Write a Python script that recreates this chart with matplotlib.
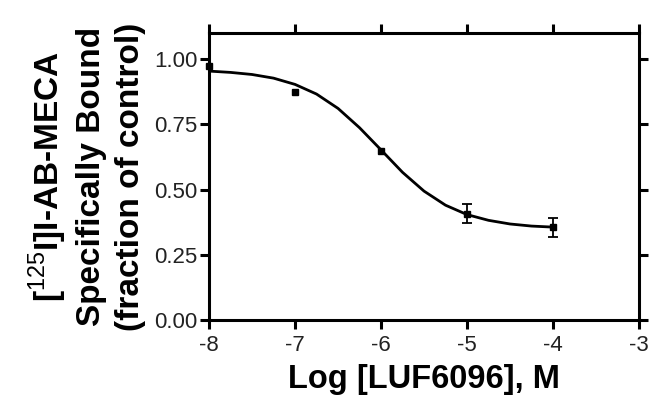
import numpy as np
import matplotlib
matplotlib.use("Agg")
import matplotlib.pyplot as plt

plt.rcParams['font.family'] = ['Liberation Sans', 'DejaVu Sans']
plt.rcParams['mathtext.fontset'] = 'custom'
plt.rcParams['mathtext.rm'] = 'Liberation Sans'
plt.rcParams['mathtext.bf'] = 'Liberation Sans:bold'
plt.rcParams['axes.unicode_minus'] = False

# measured points (log M, fraction of control)
log_conc = [-8, -7, -6, -5, -4]
bound = [0.975, 0.872, 0.647, 0.408, 0.355]
sem = [0.0, 0.0, 0.0, 0.035, 0.036]

# fitted curve
curve_x = [-8.0, -7.75, -7.5, -7.25, -7.0, -6.75, -6.5, -6.25, -6.0,
           -5.75, -5.5, -5.25, -5.0, -4.75, -4.5, -4.25, -4.0]
curve_y = [0.954, 0.949, 0.941, 0.927, 0.903, 0.866, 0.811, 0.737, 0.652,
           0.566, 0.494, 0.440, 0.404, 0.382, 0.368, 0.360, 0.356]

xticks = [-8, -7, -6, -5, -4, -3]
yticks = [0.0, 0.25, 0.5, 0.75, 1.0]

fig = plt.figure(figsize=(6.52, 4.08), dpi=100)
ax = fig.add_axes([0.3206, 0.2157, 0.6595, 0.7034])

ax.plot(curve_x, curve_y, color='black', lw=2.0, solid_capstyle='round')
ax.plot(log_conc, bound, 's', color='black', ms=5, clip_on=False, zorder=5)
# error bars only where the SEM is larger than the symbol
ex = [x for x, e in zip(log_conc, sem) if e > 0]
ey = [y for y, e in zip(bound, sem) if e > 0]
ee = [e for e in sem if e > 0]
ax.errorbar(ex, ey, yerr=ee, fmt='none', ecolor='black', elinewidth=1.3,
            capsize=3.5, capthick=1.3, zorder=4)

ax.set_xlim(-8, -3)
ax.set_ylim(0, 1.1)
ax.set_xticks(xticks)
ax.set_xticklabels([str(t) for t in xticks])
ax.set_yticks(yticks)
ax.set_yticklabels(['%.2f' % t for t in yticks])

for s in ax.spines.values():
    s.set_linewidth(2.2)
ax.tick_params(direction='out', length=6.5, width=2.2, labelsize=16,
               top=True, right=True, labeltop=False, labelright=False,
               colors='black', labelcolor='#222222')
ax.tick_params(axis='x', pad=4)
ax.tick_params(axis='y', pad=2)

ax.set_xlabel('Log [LUF6096], M', fontsize=23.5, fontweight='bold', labelpad=6)
ax.set_ylabel('[$^{\\mathrm{125}}$I]I-AB-MECA\nSpecifically Bound\n(fraction of control)',
              fontsize=24, fontweight='bold', linespacing=1.3, labelpad=6)

fig.savefig('out.png', dpi=100)
